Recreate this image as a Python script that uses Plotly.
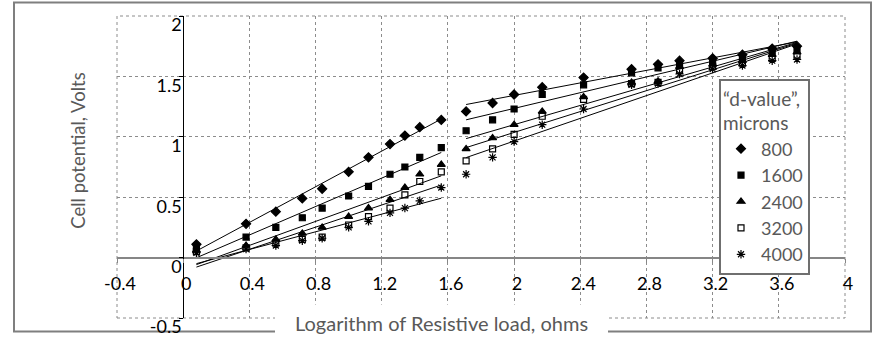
import numpy as np
import plotly.graph_objects as go

# ---- data ----
x_seg1 = [0.08, 0.38, 0.56, 0.72, 0.84, 1.00, 1.12, 1.25, 1.34, 1.43, 1.56]
x_seg2 = [1.71, 1.87, 2.00, 2.17, 2.42, 2.71, 2.87, 3.00, 3.20, 3.38, 3.56, 3.71]

series_names = ["800", "1600", "2400", "3200", "4000"]

y800_seg1 = [0.11, 0.28, 0.38, 0.49, 0.57, 0.71, 0.83, 0.94, 1.01, 1.08, 1.14]
y1600_seg1 = [0.08, 0.17, 0.25, 0.33, 0.41, 0.51, 0.59, 0.69, 0.75, 0.83, 0.91]
y2400_seg1 = [0.06, 0.10, 0.15, 0.20, 0.25, 0.34, 0.41, 0.48, 0.58, 0.69, 0.77]
y3200_seg1 = [0.05, 0.08, 0.12, 0.15, 0.17, 0.27, 0.34, 0.41, 0.52, 0.63, 0.71]
y4000_seg1 = [0.04, 0.07, 0.10, 0.14, 0.16, 0.25, 0.30, 0.37, 0.41, 0.47, 0.58]

y800_seg2 = [1.21, 1.28, 1.35, 1.41, 1.49, 1.56, 1.60, 1.63, 1.65, 1.68, 1.73, 1.75]
y1600_seg2 = [1.05, 1.14, 1.23, 1.35, 1.43, 1.53, 1.57, 1.60, 1.62, 1.66, 1.71, 1.73]
y2400_seg2 = [0.90, 0.99, 1.10, 1.21, 1.33, 1.45, 1.46, 1.58, 1.60, 1.63, 1.68, 1.70]
y3200_seg2 = [0.80, 0.90, 1.02, 1.17, 1.31, 1.44, 1.45, 1.55, 1.58, 1.61, 1.65, 1.67]
y4000_seg2 = [0.69, 0.83, 0.96, 1.10, 1.23, 1.43, 1.44, 1.52, 1.56, 1.59, 1.63, 1.64]

x_tickvals = [-0.4, 0, 0.4, 0.8, 1.2, 1.6, 2, 2.4, 2.8, 3.2, 3.6, 4]
x_ticktext = ["-0.4", "0", "0.4", "0.8", "1.2", "1.6", "2", "2.4", "2.8", "3.2", "3.6", "4"]
y_tickvals = [-0.5, 0, 0.5, 1, 1.5, 2]
y_ticktext = ["-0.5", "0", "0.5", "1", "1.5", "2"]

seg1 = [y800_seg1, y1600_seg1, y2400_seg1, y3200_seg1, y4000_seg1]
seg2 = [y800_seg2, y1600_seg2, y2400_seg2, y3200_seg2, y4000_seg2]

# ---- styles ----
symbols = ["diamond", "square", "triangle-up", "square-open", "asterisk-open"]
sizes = [7, 6, 7, 6, 7]
FONT = "Lato"
GRAY_TXT = "#595959"
GRID = "#8c8c8c"

fig = go.Figure()

for name, ys1, ys2, sym, sz in zip(series_names, seg1, seg2, symbols, sizes):
    xs = list(x_seg1) + list(x_seg2)
    ys = list(ys1) + list(ys2)
    fig.add_trace(go.Scatter(
        x=xs, y=ys, mode="markers", name=name,
        marker=dict(symbol=sym, size=sz, color="black",
                    line=dict(color="black", width=1.2)),
    ))
    # linear trendlines for each segment
    for xseg, yseg in ((x_seg1, ys1), (x_seg2, ys2)):
        k, b = np.polyfit(xseg, yseg, 1)
        xe = [min(xseg), max(xseg)]
        fig.add_trace(go.Scatter(
            x=xe, y=[k * v + b for v in xe], mode="lines",
            line=dict(color="black", width=1), showlegend=False,
            hoverinfo="skip",
        ))

# plot-area geometry in pixels (for paper conversions)
L, R, T, B = 117, 34, 16, 17
W, H = 879, 349
PW, PH = W - L - R, H - T - B


def px(xp):
    return (xp - L) / PW


def py(yp):
    return (H - B - yp) / PH


xr = [-0.4, 4]
yr = [-0.5, 2]

fig.update_layout(
    width=W, height=H,
    margin=dict(l=L, r=R, t=T, b=B, pad=0),
    paper_bgcolor="white", plot_bgcolor="white",
    font=dict(family=FONT, size=18, color="black"),
    xaxis=dict(
        range=xr, tickvals=x_tickvals, ticktext=x_ticktext,
        anchor="free", position=(0 - yr[0]) / (yr[1] - yr[0]),
        showline=True, linecolor="#868686", linewidth=2,
        zeroline=False,
        showgrid=True, gridcolor=GRID, griddash="dot", gridwidth=1,
        ticks="outside", ticklen=4, tickcolor="#868686",
        ticklabelstandoff=6, ticklabelshift=3,
        tickfont=dict(family=FONT, size=18, color="black"),
    ),
    yaxis=dict(
        range=yr, tickvals=y_tickvals, ticktext=y_ticktext,
        anchor="free", position=(0 - xr[0]) / (xr[1] - xr[0]),
        showline=True, linecolor="black", linewidth=1,
        zeroline=False,
        showgrid=True, gridcolor=GRID, griddash="dot", gridwidth=1,
        ticks="outside", ticklen=4, tickcolor="black",
        ticklabelshift=9, ticklabelstandoff=-6, ticklabeloverflow="allow",
        tickfont=dict(family=FONT, size=18, color="black"),
    ),
    legend=dict(
        x=px(719), y=py(82), xanchor="left", yanchor="top",
        bgcolor="white", bordercolor="#6f6f6f", borderwidth=2,
        font=dict(family=FONT, size=18, color=GRAY_TXT),
        title=dict(text="“d-value”,<br>microns",
                   font=dict(family=FONT, size=19, color=GRAY_TXT)),
        tracegroupgap=0, itemwidth=30,
    ),
    shapes=[
        # dotted plot-area frame
        dict(type="rect", xref="paper", yref="paper", x0=0, y0=0, x1=1, y1=1,
             line=dict(color=GRID, width=1, dash="dot"), layer="below"),
        # outer chart frame
        dict(type="rect", xref="paper", yref="paper",
             x0=px(14), y0=py(346), x1=px(871), y1=py(2),
             line=dict(color="#7f7f7f", width=2), layer="below"),
        # white block behind the x-axis title
        dict(type="rect", xref="paper", yref="paper",
             x0=px(275), y0=py(352), x1=px(608), y1=py(318),
             line=dict(width=0), fillcolor="white", layer="above"),
    ],
    annotations=[
        dict(text="Logarithm of Resistive load, ohms", xref="paper", yref="paper",
             x=px(441), y=py(337), xanchor="center", yanchor="middle",
             showarrow=False,
             font=dict(family=FONT, size=20, color=GRAY_TXT)),
        dict(text="Cell potential, Volts", xref="paper", yref="paper",
             x=px(78), y=py(157), xanchor="center", yanchor="middle",
             textangle=-90, showarrow=False,
             font=dict(family=FONT, size=18.5, color=GRAY_TXT)),
    ],
)

fig.write_html("out.html")
